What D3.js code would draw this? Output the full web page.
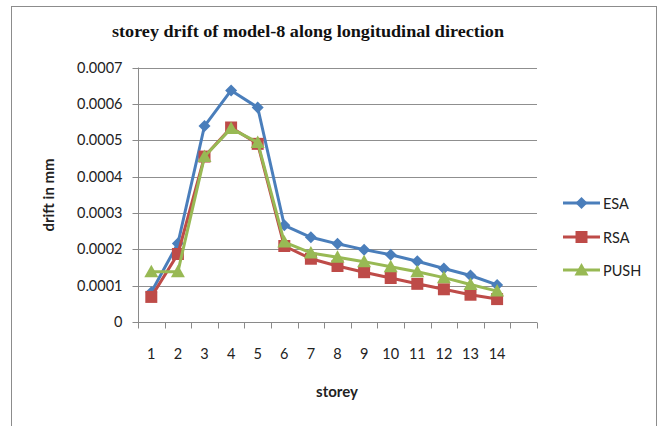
<!DOCTYPE html>
<html>
<head>
<meta charset="utf-8">
<script src="https://cdn.jsdelivr.net/npm/d3@7"></script>
<style>
  html, body { margin: 0; padding: 0; background: #fff; }
  svg { display: block; }
</style>
</head>
<body>
<svg id="chart" width="665" height="426"></svg>
<script>
// Storey drift values (mm) for each analysis method
const storeys = ["1","2","3","4","5","6","7","8","9","10","11","12","13","14",""];
const esa  = [0.000082, 0.000216, 0.000539, 0.000637, 0.000590, 0.000266, 0.000233, 0.000215, 0.000199, 0.000185, 0.000167, 0.000147, 0.000128, 0.000102];
const rsa  = [0.000069, 0.000187, 0.000455, 0.000535, 0.000490, 0.000209, 0.000174, 0.000154, 0.000137, 0.000121, 0.000105, 0.000090, 0.000075, 0.000063];
const push = [0.000138, 0.000138, 0.000455, 0.000532, 0.000494, 0.000220, 0.000190, 0.000178, 0.000166, 0.000152, 0.000138, 0.000122, 0.000103, 0.000085];
const yTicks = [0, 0.0001, 0.0002, 0.0003, 0.0004, 0.0005, 0.0006, 0.0007];
const yTickLabels = ["0", "0.0001", "0.0002", "0.0003", "0.0004", "0.0005", "0.0006", "0.0007"];

const seriesList = [
  { name: "ESA",  values: esa,  color: "#4a7ebb", marker: "diamond" },
  { name: "RSA",  values: rsa,  color: "#be4b48", marker: "square" },
  { name: "PUSH", values: push, color: "#98b954", marker: "triangle" }
];

const svg = d3.select("#chart");
const sansFont = "Lato, 'Open Sans', sans-serif";

// Outer chart frame
svg.append("rect")
  .attr("x", 11.5).attr("y", 6.5)
  .attr("width", 645).attr("height", 440)
  .attr("fill", "#fff").attr("stroke", "#8c8c8c").attr("stroke-width", 1);

const plot = { left: 138, right: 537, top: 67.5, bottom: 322 };

const x = d3.scaleBand().domain(storeys).range([plot.left, plot.right]);
const y = d3.scaleLinear().domain([0, 0.0007]).range([plot.bottom, plot.top]);

// Horizontal gridlines
svg.append("g")
  .selectAll("line")
  .data(yTicks.slice(1))
  .join("line")
  .attr("x1", plot.left).attr("x2", plot.right)
  .attr("y1", d => Math.round(y(d)) + 0.5).attr("y2", d => Math.round(y(d)) + 0.5)
  .attr("stroke", "#8f8f8f").attr("stroke-width", 1);

// Y axis
const yAxis = d3.axisLeft(y)
  .tickValues(yTicks)
  .tickFormat((d, i) => yTickLabels[i])
  .tickSize(6)
  .tickPadding(10);
const gy = svg.append("g")
  .attr("transform", `translate(${plot.left + 0.5},0)`)
  .call(yAxis);
gy.selectAll(".tick").attr("transform", d => `translate(0,${Math.round(y(d)) + 0.5})`);
gy.select(".domain").attr("stroke", "#8a8a8a").attr("d", `M0,${plot.top}V${plot.bottom}`);
gy.selectAll(".tick line").attr("stroke", "#8a8a8a");
gy.selectAll(".tick text")
  .attr("font-family", sansFont).attr("font-size", 14.5).attr("fill", "#222");

// X axis: ticks at band boundaries, labels centred in bands
const gx = svg.append("g")
  .attr("transform", `translate(0,${plot.bottom + 0.5})`);
gx.append("line")
  .attr("x1", plot.left).attr("x2", plot.right)
  .attr("y1", 0).attr("y2", 0)
  .attr("stroke", "#8a8a8a");
const boundaries = storeys.map(s => x(s)).concat([plot.right]);
gx.selectAll("line.tk")
  .data(boundaries)
  .join("line")
  .attr("class", "tk")
  .attr("x1", d => Math.round(d) + 0.5).attr("x2", d => Math.round(d) + 0.5)
  .attr("y1", 0).attr("y2", 6)
  .attr("stroke", "#8a8a8a");
gx.selectAll("text")
  .data(storeys)
  .join("text")
  .attr("x", d => x(d) + x.bandwidth() / 2)
  .attr("y", 36)
  .attr("text-anchor", "middle")
  .attr("font-family", sansFont).attr("font-size", 14.5).attr("fill", "#222")
  .text(d => d);

// Axis titles
svg.append("text")
  .attr("x", 337).attr("y", 397)
  .attr("text-anchor", "middle")
  .attr("font-family", sansFont).attr("font-size", 15).attr("font-weight", "bold").attr("fill", "#222")
  .text("storey");
svg.append("text")
  .attr("transform", "translate(54,195) rotate(-90)")
  .attr("text-anchor", "middle")
  .attr("font-family", sansFont).attr("font-size", 15).attr("font-weight", "bold").attr("fill", "#222")
  .text("drift in mm");

// Chart title
svg.append("text")
  .attr("x", 112).attr("y", 37)
  .attr("textLength", 392).attr("lengthAdjust", "spacingAndGlyphs")
  .attr("font-family", "'Liberation Serif', 'DejaVu Serif', serif")
  .attr("font-size", 16.5).attr("font-weight", "bold").attr("fill", "#111")
  .text("storey drift of model-8 along longitudinal direction");

// Marker shapes
function markerPath(type) {
  if (type === "diamond") return "M0,-6L6,0L0,6L-6,0Z";
  if (type === "square") return "M-6,-6H6V6H-6Z";
  return "M0,-7L7,5.5L-7,5.5Z";
}

const line = d3.line()
  .x((d, i) => x(storeys[i]) + x.bandwidth() / 2)
  .y(d => y(d));

seriesList.forEach(s => {
  const g = svg.append("g");
  g.append("path")
    .datum(s.values)
    .attr("d", line)
    .attr("fill", "none")
    .attr("stroke", s.color)
    .attr("stroke-width", 3)
    .attr("stroke-linejoin", "round");
  g.selectAll("path.mk")
    .data(s.values)
    .join("path")
    .attr("class", "mk")
    .attr("d", markerPath(s.marker))
    .attr("transform", (d, i) => `translate(${x(storeys[i]) + x.bandwidth() / 2},${y(d)})`)
    .attr("fill", s.color);
});

// Legend
const legend = svg.append("g");
const legendY = [203, 237, 270];
seriesList.forEach((s, i) => {
  const g = legend.append("g").attr("transform", `translate(563,${legendY[i]})`);
  g.append("line")
    .attr("x1", 0).attr("x2", 37).attr("y1", 0).attr("y2", 0)
    .attr("stroke", s.color).attr("stroke-width", 3);
  g.append("path")
    .attr("d", markerPath(s.marker))
    .attr("transform", "translate(18.5,0)")
    .attr("fill", s.color);
  g.append("text")
    .attr("x", 40).attr("y", 5.5)
    .attr("font-family", sansFont).attr("font-size", 14.5).attr("fill", "#222")
    .text(s.name);
});
</script>
</body>
</html>
